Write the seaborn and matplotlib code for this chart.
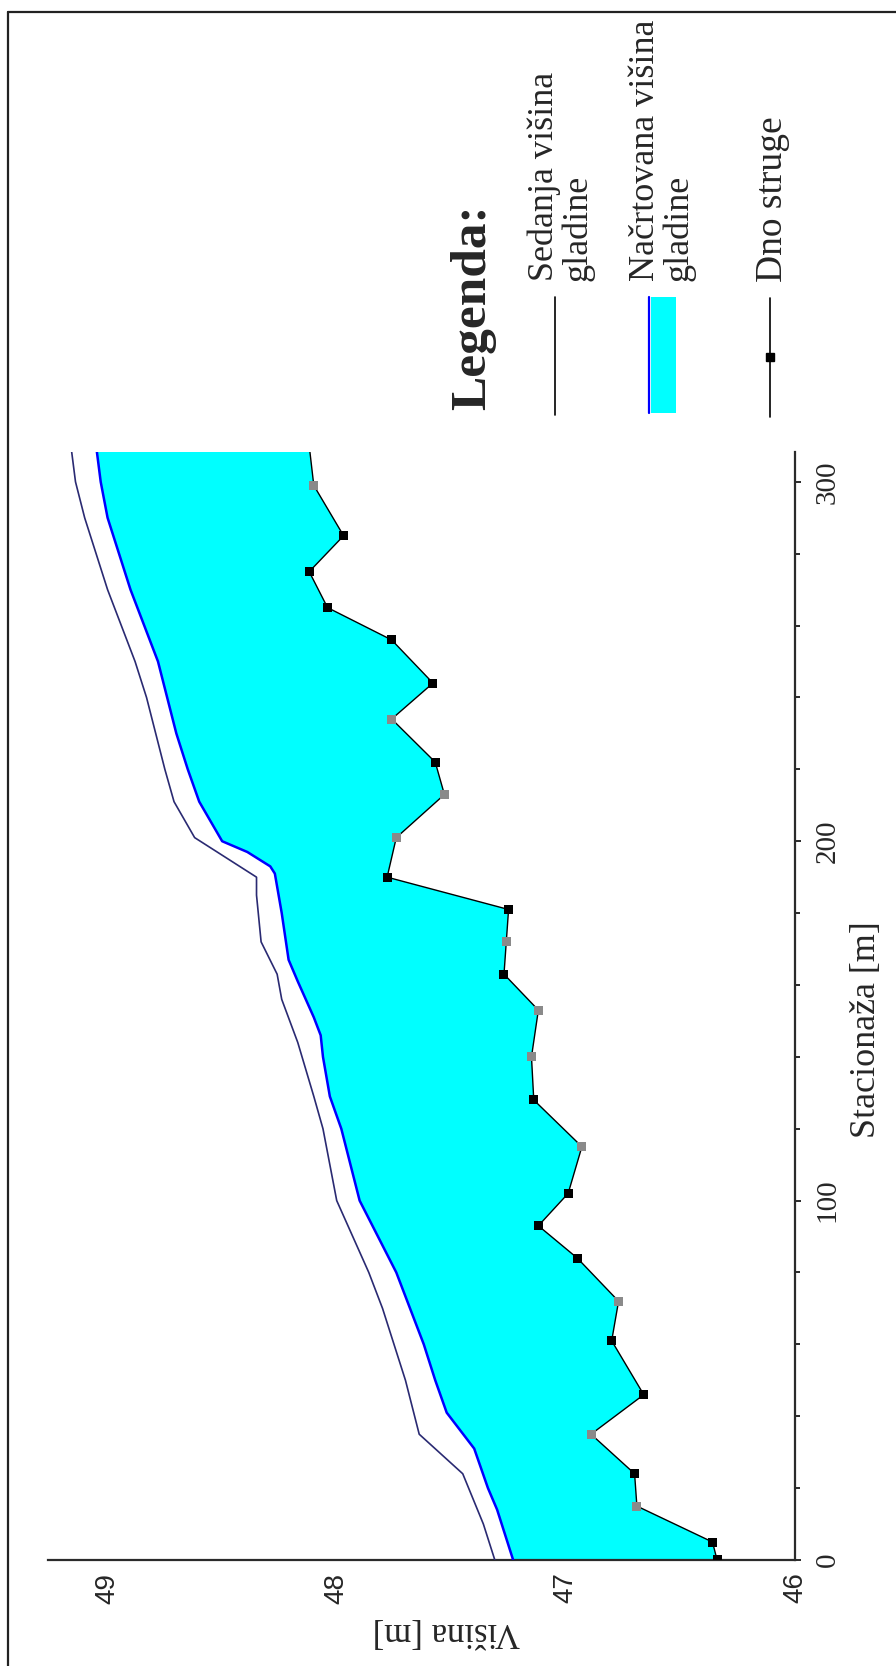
import numpy as np
import pandas as pd
import matplotlib
matplotlib.use('Agg')
import matplotlib.pyplot as plt
import matplotlib.ticker as ticker
from matplotlib.lines import Line2D
from matplotlib.patches import Rectangle
import seaborn as sns

# Dno struge (river bed): stationing [m], height [m], marker colour
bed_station = [0, 5, 15, 24, 35, 46, 61, 72, 84, 93, 102, 115, 128, 140, 153,
               163, 172, 181, 190, 201, 213, 222, 234, 244, 256, 265, 275, 285, 299, 310]
bed_height = [46.34, 46.36, 46.69, 46.70, 46.89, 46.66, 46.80, 46.77, 46.95, 47.12,
              46.99, 46.93, 47.14, 47.15, 47.12, 47.27, 47.26, 47.25, 47.78, 47.74,
              47.53, 47.57, 47.76, 47.58, 47.76, 48.04, 48.12, 47.97, 48.10, 48.12]
bed_kind = ['b', 'b', 'g', 'b', 'g', 'b', 'b', 'g', 'b', 'b', 'b', 'g', 'b', 'g', 'g',
            'b', 'g', 'b', 'b', 'g', 'g', 'b', 'g', 'b', 'b', 'b', 'b', 'b', 'g', 'none']

# Načrtovana višina gladine (planned water level)
plan_station = [0, 14, 20, 31, 41, 50, 60, 70, 80, 90, 100, 110, 120, 129, 140, 146,
                151, 161, 167, 180, 191, 193, 197, 200, 211, 220, 230, 240, 250, 260,
                270, 280, 290, 300, 310]
planned = [47.23, 47.30, 47.34, 47.40, 47.52, 47.57, 47.62, 47.68, 47.74, 47.82, 47.90,
           47.94, 47.98, 48.03, 48.06, 48.07, 48.10, 48.17, 48.21, 48.24, 48.27, 48.29,
           48.39, 48.50, 48.60, 48.65, 48.70, 48.74, 48.78, 48.84, 48.90, 48.95, 49.00,
           49.03, 49.05]

# Sedanja višina gladine (current water level)
cur_station = [0, 10, 24, 35, 50, 60, 70, 80, 90, 100, 110, 120, 129, 144, 156, 163,
               172, 185, 190, 201, 211, 220, 230, 240, 250, 260, 270, 280, 290, 300, 310]
current = [47.31, 47.36, 47.45, 47.64, 47.70, 47.75, 47.80, 47.86, 47.93, 48.00, 48.03,
           48.06, 48.10, 48.17, 48.24, 48.26, 48.33, 48.35, 48.35, 48.62, 48.71, 48.75,
           48.79, 48.83, 48.88, 48.94, 49.00, 49.05, 49.10, 49.14, 49.16]

station_ticks = [0, 100, 200, 300]
height_ticks = [46, 47, 48, 49]

W, H = 896, 1666


def fx(x):
    return x / W


def fy(y):
    return 1 - y / H


sns.set_style('white')
serif = ['Liberation Serif', 'DejaVu Serif']
sans = ['Liberation Sans', 'DejaVu Sans']
plt.rcParams['font.family'] = serif

fig = plt.figure(figsize=(W / 100, H / 100), dpi=100)
ax = fig.add_axes([fx(48), fy(1560), fx(795) - fx(48), fy(452) - fy(1560)])

bed = pd.DataFrame({'station': bed_station, 'height': bed_height, 'kind': bed_kind})
plan = pd.DataFrame({'station': plan_station, 'height': planned})
cur = pd.DataFrame({'station': cur_station, 'height': current})

# cyan water body between planned surface and river bed
poly_x = list(plan['height']) + list(bed['height'][::-1])
poly_y = list(plan['station']) + list(bed['station'][::-1])
ax.fill(poly_x, poly_y, color='#00ffff', lw=0, zorder=1)

sns.lineplot(data=cur, x='height', y='station', orient='y', sort=False, estimator=None,
             color='#2a2a72', lw=1.2, ax=ax, zorder=3)
sns.lineplot(data=plan, x='height', y='station', orient='y', sort=False, estimator=None,
             color='#0000ff', lw=1.8, ax=ax, zorder=3)
sns.lineplot(data=bed, x='height', y='station', orient='y', sort=False, estimator=None,
             color='black', lw=1.0, ax=ax, zorder=4)
marks = bed[bed['kind'] != 'none']
sns.scatterplot(data=marks, x='height', y='station', hue='kind',
                palette={'b': 'black', 'g': '#8a8a8a'}, marker='s', s=42,
                edgecolor='none', legend=False, ax=ax, zorder=5)

ax.set_xlim(49.26, 46)
ax.set_ylim(0, 308.3)
ax.set_xlabel('')
ax.set_ylabel('')

for side in ['top', 'left']:
    ax.spines[side].set_visible(False)
for side in ['right', 'bottom']:
    ax.spines[side].set_color('#2b2b2b')
    ax.spines[side].set_linewidth(1.6)

ax.yaxis.tick_right()
ax.set_yticks(station_ticks)
ax.yaxis.set_minor_locator(ticker.MultipleLocator(20))
ax.set_yticklabels([str(t) for t in station_ticks], rotation=90, va='center',
                   fontsize=21, family=serif)
ax.set_xticks(height_ticks)
ax.xaxis.set_minor_locator(ticker.MultipleLocator(0.2))
ax.set_xticklabels([str(t) for t in height_ticks], rotation=90, ha='center',
                   fontsize=20, family=sans)
ax.tick_params(which='both', direction='out', color='#2b2b2b', width=1.4)
ax.tick_params(which='major', length=4)
ax.tick_params(which='minor', length=3.5)
ax.tick_params(axis='y', which='major', pad=10)
ax.tick_params(axis='x', which='major', pad=5)

fig.text(fx(866), fy(1030), 'Stacionaža [m]', rotation=90, ha='center', va='center',
         fontsize=26, family=serif)
fig.text(fx(446), fy(1632), 'Višina [m]', rotation=180, ha='center', va='center',
         fontsize=25, family=serif)

# legend block
fig.text(fx(473), fy(410), 'Legenda:', rotation=90, ha='center', va='bottom',
         fontsize=37, fontweight='bold', family=serif)
fig.text(fx(561), fy(281), 'Sedanja višina\ngladine', rotation=90, ha='center',
         va='bottom', multialignment='left', fontsize=26, family=serif, linespacing=1.0)
fig.text(fx(662), fy(281), 'Načrtovana višina\ngladine', rotation=90, ha='center',
         va='bottom', multialignment='left', fontsize=26, family=serif, linespacing=1.0)
fig.text(fx(773), fy(282), 'Dno struge', rotation=90, ha='center', va='bottom',
         fontsize=27, family=serif)

fig.add_artist(Line2D([fx(555), fx(555)], [fy(297), fy(415)], color='black', lw=1.2,
                      transform=fig.transFigure))
fig.add_artist(Rectangle((fx(651), fy(413)), fx(676) - fx(651), fy(297) - fy(413),
                         facecolor='#00ffff', edgecolor='none', transform=fig.transFigure))
fig.add_artist(Line2D([fx(649), fx(649)], [fy(297), fy(413)], color='#0000ff', lw=1.6,
                      transform=fig.transFigure))
fig.add_artist(Line2D([fx(770), fx(770)], [fy(298), fy(417)], color='black', lw=1.2,
                      transform=fig.transFigure))
fig.add_artist(Line2D([fx(770)], [fy(357)], color='black', marker='s', markersize=6,
                      lw=0, transform=fig.transFigure))

# outer frame (left and top edges)
fig.add_artist(Line2D([fx(8), fx(8)], [fy(12), 0], color='#222222', lw=1.6,
                      transform=fig.transFigure))
fig.add_artist(Line2D([fx(8), 1], [fy(12), fy(12)], color='#222222', lw=1.6,
                      transform=fig.transFigure))

fig.savefig('out.png', dpi=100, facecolor='white')
